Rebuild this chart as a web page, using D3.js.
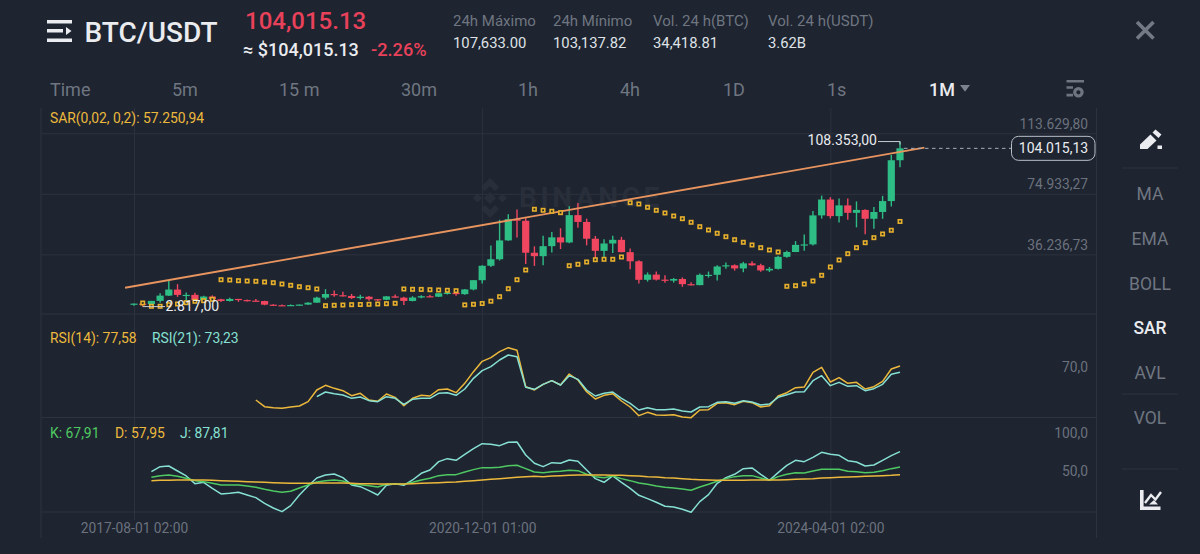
<!DOCTYPE html>
<html>
<head>
<meta charset="utf-8">
<script src="https://cdnjs.cloudflare.com/ajax/libs/d3/7.8.5/d3.min.js"></script>
<style>
html,body{margin:0;padding:0;background:#1e2430;overflow:hidden}
svg{display:block}
text{font-family:Roboto,"Noto Sans",sans-serif}
</style>
</head>
<body>
<svg id="chart" width="1200" height="554"></svg>
<script>
// Monthly BTC/USDT candles, August 2017 to December 2024
const opens = [4261,4690,4378,6463,9838,13716,10285,10326,6923,9246,7485,6391,7729,7011,6626,6371,4041,3702,3434,3813,4103,5320,8555,10855,10085,9630,8289,9140,7541,7195,9352,8523,6412,8620,9448,9138,11335,11649,10776,13791,19695,28923,33092,45134,58739,57697,37253,35045,41461,47100,43820,61300,56950,46216,38466,43160,45510,37630,31801,19942,23296,20050,19422,20490,17165,16541,23125,23141,28465,29233,27210,30472,29232,25940,26962,34639,37723,42283,42580,61130,71280,60672,67540,62772,64628,58974,63327,70292,96407];
const highs = [4745,4939,6470,11300,19798,17176,11786,11700,9759,10020,7786,8491,7760,7410,7680,6585,4340,4143,4198,4140,5600,9090,13970,13147,12325,10905,10370,9550,7750,9575,10500,9188,9460,10067,10380,11444,12468,12050,14100,19863,29300,41950,58352,61844,64854,59500,41330,48168,50500,52920,67000,69000,59053,47990,45821,48190,47444,40023,32399,24668,25202,22799,21085,21480,18387,23960,25250,29184,31000,29820,31431,31804,30244,28142,35280,38450,44700,48969,64000,73777,72797,71979,71997,70079,65000,66498,73620,99800,108353];
const lows = [3400,2817,4110,5325,9600,9035,6000,6600,6430,7032,5750,6070,5880,6100,6205,3652,3156,3349,3373,3670,4067,5350,7444,9071,9320,7710,7300,6515,6435,6901,8445,3782,6150,8117,8833,8893,10518,9825,10374,13195,17572,28130,32296,45000,47044,30000,28805,29278,37332,39600,43283,53256,42000,32917,34322,37155,37578,26700,17622,18781,19520,18125,18190,15476,16256,16499,21351,19549,26942,25811,24800,28861,25166,24901,26538,34097,37615,38555,41884,59005,59191,56552,58402,53485,49000,52550,58946,66835,92000];
const closes = [4724,4378,6463,9838,13716,10285,10326,6923,9246,7485,6391,7729,7011,6626,6371,4041,3702,3434,3813,4103,5320,8555,10855,10085,9630,8289,9140,7541,7195,9352,8523,6410,8620,9448,9138,11335,11649,10776,13791,19695,28923,33092,45135,58740,57694,37253,35045,41461,47100,43824,61299,56950,46216,38466,43160,45510,37630,31801,19942,23293,20050,19422,20490,17163,16542,23125,23141,28465,29233,27210,30472,29232,25940,26962,34639,37723,42283,42580,61130,71280,60672,67540,62772,64628,58974,63327,70292,96407,104015.13];

// Parabolic SAR, one value per candle from the second month on
const sarValues = [5117,3006,3006,4030,4477,5309,6204,6588,7483,20019,19828,19380,19188,18996,18548,18101,17269,16438,15542,14903,14071,3390,3646,3838,4029,4157,4285,4477,4669,4925,14071,13879,13815,13623,13432,13240,12984,3902,4285,4797,6268,9146,14263,20019,26224,65047,64408,63768,62873,28974,29869,31340,32811,33067,33067,34538,69269,68437,66327,64408,62681,60762,59035,56733,53918,51808,49697,47522,45603,43941,42214,40487,39016,37736,15798,16182,17269,19188,22834,28142,32620,36649,40487,43685,46883,49249,51616,57250.94];

// RSI(14) starts at month 14, RSI(21) at month 21
const rsi14 = [54.13,49.53,48.84,48.38,49.30,49.99,52.98,61.03,64.25,62.17,60.57,57.12,58.73,54.13,53.21,58.27,55.97,50.22,55.28,57.35,56.89,61.26,61.71,59.18,65.62,73.67,80.80,83.33,87.46,90.22,88.38,63.32,61.03,64.93,67.46,64.47,72.06,67.92,59.87,54.82,57.35,58.50,53.44,49.30,43.32,45.62,43.78,43.55,44.01,42.40,41.95,47.23,47.46,51.83,52.29,50.91,53.21,52.29,49.30,50.22,56.89,59.18,62.63,63.09,73.21,76.66,66.54,69.53,65.62,66.31,61.71,63.32,67.00,75.51,77.58];
const rsi21 = [56.43,59.65,58.50,57.58,55.28,56.20,53.67,52.98,56.43,55.28,51.14,54.59,55.28,55.28,58.73,59.18,57.35,61.71,69.07,74.36,77.12,81.72,85.16,84.01,62.86,61.49,64.93,67.46,64.47,70.91,68.38,61.03,56.89,58.73,59.65,55.28,51.83,47.23,48.84,47.46,47.46,47.92,46.54,45.85,49.30,49.53,52.52,52.98,51.83,53.67,52.75,50.68,51.37,55.97,57.81,59.65,59.87,67.46,70.91,64.01,66.31,63.55,64.01,60.57,61.95,64.93,71.83,73.23];

// KDJ starts at month 2
const kdjK = [54.53,56.69,57.55,55.82,53.23,50.19,48.90,46.73,44.57,44.57,44.57,43.27,41.54,38.94,36.77,35.05,36.34,40.67,44.57,48.46,50.19,51.06,49.76,45.87,45.00,43.70,41.97,45.44,45.87,45.44,48.03,51.06,53.23,56.69,57.99,57.99,61.45,64.48,67.08,67.08,67.51,69.68,70.11,65.78,61.45,60.59,61.88,62.32,63.62,63.18,58.42,55.39,54.09,56.26,52.79,50.19,47.17,45.44,43.27,41.54,40.67,39.37,37.64,41.97,45.44,49.33,52.79,55.39,56.69,56.69,53.66,50.63,55.39,58.42,60.59,60.15,62.75,64.91,64.91,64.91,62.32,61.88,60.59,61.02,63.18,65.78,67.91];
const kdjD = [50.19,50.63,50.63,51.06,51.06,51.06,51.06,50.63,50.19,49.76,49.33,48.90,48.46,48.03,47.60,47.17,46.73,46.73,46.73,47.17,47.17,47.17,47.17,46.73,46.30,46.30,45.87,45.87,45.87,45.87,46.30,46.73,47.17,47.60,48.03,48.46,49.33,50.19,51.06,51.93,52.79,53.66,54.53,55.39,55.82,55.39,56.26,56.69,57.12,57.55,57.55,57.55,57.55,57.12,57.12,56.69,56.26,55.39,54.96,54.09,53.66,52.79,51.93,51.50,51.06,50.63,50.63,50.63,50.63,51.06,51.06,51.06,51.06,51.50,51.93,52.36,52.79,53.66,54.09,54.53,54.96,55.39,55.82,56.26,56.69,57.12,57.95];
const kdjJ = [61.88,68.38,69.24,62.75,56.26,46.30,48.03,40.24,32.88,33.75,35.05,31.58,28.12,20.76,14.70,9.94,17.73,31.58,43.27,53.66,57.55,58.85,54.09,44.57,42.40,37.21,31.58,44.13,46.30,44.13,51.06,59.72,64.05,74.87,78.77,76.60,84.39,91.75,98.25,97.38,95.65,99.98,100.41,83.53,72.71,68.38,73.57,72.71,77.04,75.30,64.05,52.79,48.03,56.26,48.03,40.24,31.15,26.82,22.06,16.87,16.00,12.97,9.07,22.92,32.01,46.73,54.09,58.42,65.78,66.64,58.42,50.63,60.59,70.11,76.60,74.87,80.50,86.99,84.39,83.10,76.17,74.44,69.24,70.54,76.60,82.66,87.81];

// Hand-drawn trend line: month positions and prices of its two ends
const trendMonths = [-1.03, 90.8];
const trendPrices = [14900, 104447];

// Axis ticks
const priceTicks = [36236.73, 74933.27, 113629.80];
const rsiTicks = [70];
const kdjTicks = [50, 100];
const dateTicks = [0, 40, 80];
const dateLabels = ["2017-08-01 02:00", "2020-12-01 01:00", "2024-04-01 02:00"];

// Header and menu text
const statTitles = ["24h Máximo", "24h Mínimo", "Vol. 24 h(BTC)", "Vol. 24 h(USDT)"];
const statValues = ["107,633.00", "103,137.82", "34,418.81", "3.62B"];
const intervals = ["Time", "5m", "15 m", "30m", "1h", "4h", "1D", "1s", "1M"];
const indicators = ["MA", "EMA", "BOLL", "SAR", "AVL", "VOL"];

const BG = "#1e2430", GRID = "#2d333e", AXIS = "#6b727e", MUTED = "#6f7681";
const UP = "#2ebd85", DOWN = "#f0465f", YELLOW = "#ecb93c", TEAL = "#86e0d3", GREEN = "#4fc962";
const BRIGHT = "#eaecef", RED = "#e8415a";

const svg = d3.select("#chart");
svg.append("rect").attr("width", 1200).attr("height", 554).attr("fill", BG);

const esFormat = d3.formatLocale({decimal: ",", thousands: ".", grouping: [3]});
const fmt2 = esFormat.format(",.2f");
const fmt1 = esFormat.format(".1f");

const x = d3.scaleLinear().domain([0, 88]).range([134, 900]);
const yPrice = d3.scaleLinear().domain([0, 113629.80]).range([311, 133.3]);
const yRsi = d3.scaleLinear().domain([41.95, 90.22]).range([417.66, 347.67]);
const yKdj = d3.scaleLinear().domain([9.07, 100]).range([512.3, 442.3]);

const LEFT = 41, RIGHT = 1096.5;

function text(g, s, px, py, o = {}) {
  return g.append("text").attr("x", px).attr("y", py).attr("dy", "0.35em")
    .attr("font-size", o.size || 14).attr("font-weight", o.weight || 400)
    .attr("text-anchor", o.anchor || "start").attr("fill", o.fill || BRIGHT).text(s);
}

/* ---------- header ---------- */
const head = svg.append("g");
head.append("path").attr("fill", BRIGHT)
  .attr("d", "M47 20h25v3.6H47z M47 29h16v3.6H47z M47 38.4h25V42H47z M66 27l5.5 4-5.5 4z");
text(head, "BTC/USDT", 84.5, 32.5, {size: 28, weight: 500});
text(head, "104,015.13", 245, 20.5, {size: 24, weight: 500, fill: RED});
text(head, "≈ $104,015.13", 243, 50, {size: 18, weight: 500});
text(head, "-2.26%", 371, 50, {size: 18.2, weight: 500, fill: RED});
const statX = [453, 553, 653, 768];
statTitles.forEach((t, i) => text(head, t, statX[i], 20.5, {size: 15, fill: MUTED}));
statValues.forEach((t, i) => text(head, t, statX[i], 43, {size: 14.8, fill: "#dfe2e6"}));
head.append("path").attr("stroke", "#737a86").attr("stroke-width", 3.6).attr("fill", "none")
  .attr("d", "M1137 22l16.5 16.5M1153.5 22l-16.5 16.5");

/* ---------- interval tabs ---------- */
const tabs = svg.append("g");
const tabX = [50, 172, 279, 401, 518, 620, 723, 827, 929];
intervals.forEach((t, i) => {
  const active = t === "1M";
  text(tabs, t, tabX[i], 90, {size: 18, weight: active ? 500 : 400, fill: active ? BRIGHT : MUTED});
});
tabs.append("path").attr("fill", "#7c838e").attr("d", "M960 85h10l-5 6.7z");
tabs.append("path").attr("fill", "#6f7681")
  .attr("d", "M1066.5 80h17.5v2.6h-17.5z M1066.5 86.2h6.5v2.6h-6.5z M1066.5 93.8h6.5v2.6h-6.5z");
tabs.append("circle").attr("cx", 1078.4).attr("cy", 92.3).attr("r", 3.7)
  .attr("fill", "none").attr("stroke", "#6f7681").attr("stroke-width", 3.2);

/* ---------- frame and grid ---------- */
const frame = svg.append("g").attr("stroke", GRID).attr("stroke-width", 1);
[314, 417.5, 512].forEach(py =>
  frame.append("line").attr("x1", LEFT).attr("x2", RIGHT).attr("y1", py).attr("y2", py));
frame.append("line").attr("x1", LEFT).attr("x2", LEFT).attr("y1", 108).attr("y2", 538);
frame.append("line").attr("x1", RIGHT).attr("x2", RIGHT).attr("y1", 108).attr("y2", 538);

function styleAxis(g) {
  g.select(".domain").remove();
  g.selectAll(".tick line").attr("stroke", GRID).attr("stroke-width", 1);
  g.selectAll(".tick text").attr("fill", AXIS).attr("font-size", 13.8)
    .attr("font-family", "Roboto,'Noto Sans',sans-serif");
}

// Date axis with vertical grid lines running up through all panels
const xAxis = d3.axisBottom(x).tickValues(dateTicks)
  .tickFormat((d, i) => dateLabels[i]).tickSize(-412).tickPadding(3);
svg.append("g").attr("transform", "translate(0,520)").call(xAxis).call(styleAxis);

// Price axis; labels sit just above their grid line
const priceAxis = d3.axisRight(yPrice).tickValues(priceTicks).tickFormat(fmt2)
  .tickSize(0).tickPadding(0);
const priceG = svg.append("g").attr("transform", `translate(${RIGHT - 8.5},0)`).call(priceAxis).call(styleAxis);
priceG.selectAll(".tick text").attr("text-anchor", "end").attr("dy", -5);
priceG.selectAll(".tick").append("line").attr("x1", 8.5).attr("x2", LEFT - RIGHT + 8.5)
  .attr("stroke", GRID);

function sideAxis(scale, ticks) {
  const axis = d3.axisRight(scale).tickValues(ticks).tickFormat(fmt1).tickSize(0).tickPadding(0);
  const g = svg.append("g").attr("transform", `translate(${RIGHT - 8.5},0)`).call(axis).call(styleAxis);
  g.selectAll(".tick text").attr("text-anchor", "end").attr("dy", -5);
}
sideAxis(yRsi, rsiTicks);
sideAxis(yKdj, kdjTicks);

/* ---------- watermark ---------- */
const mark = svg.append("g").attr("fill", "#292f3a");
mark.append("path")
  .attr("d", "M490 178l9 9-4 4-5-5-5 5-4-4z M490 218l9-9-4-4-5 5-5-5-4 4z M473 198l4.5-4.5 4.5 4.5-4.5 4.5z M507 198l-4.5-4.5-4.5 4.5 4.5 4.5z M490 192l6 6-6 6-6-6z");
text(mark, "BINANCE", 519, 197.5, {size: 28, weight: 700, fill: "#292f3a"}).attr("letter-spacing", 3.6);

/* ---------- candles ---------- */
const months = d3.range(opens.length);
const candles = svg.append("g");
const candleColor = i => closes[i] >= opens[i] ? UP : DOWN;
candles.selectAll("line").data(months).join("line")
  .attr("x1", x).attr("x2", x)
  .attr("y1", i => yPrice(highs[i])).attr("y2", i => yPrice(lows[i]))
  .attr("stroke", candleColor).attr("stroke-width", 1.4);
candles.selectAll("rect").data(months).join("rect")
  .attr("x", i => x(i) - 3.6).attr("width", 7.2)
  .attr("y", i => yPrice(Math.max(opens[i], closes[i])))
  .attr("height", i => Math.max(1.2, Math.abs(yPrice(opens[i]) - yPrice(closes[i]))))
  .attr("fill", candleColor);

/* ---------- trend line ---------- */
svg.append("path")
  .datum(trendMonths.map((m, i) => [m, trendPrices[i]]))
  .attr("fill", "none").attr("stroke", "#e8945f").attr("stroke-width", 1.9)
  .attr("d", d3.line().x(d => x(d[0])).y(d => yPrice(d[1])));

/* ---------- SAR dots ---------- */
svg.append("g").selectAll("rect").data(sarValues).join("rect")
  .attr("x", (d, i) => x(i + 1) - 1.7).attr("y", d => yPrice(d) - 1.7)
  .attr("width", 3.4).attr("height", 3.4)
  .attr("fill", "#23262b").attr("stroke", "#e6b02c").attr("stroke-width", 1.6);

/* ---------- high, low and last price markers ---------- */
const last = opens.length - 1;
const hiIdx = d3.maxIndex(highs), loIdx = d3.minIndex(lows);
const notes = svg.append("g");
notes.append("path").attr("fill", "none").attr("stroke", "#c9ccd2").attr("stroke-width", 1)
  .attr("d", d3.line()([[878, yPrice(highs[hiIdx])], [x(hiIdx), yPrice(highs[hiIdx])], [x(hiIdx), yPrice(highs[hiIdx]) + 3]]));
text(notes, fmt2(highs[hiIdx]), 877, yPrice(highs[hiIdx]) - 1, {size: 14, anchor: "end"});
notes.append("line").attr("x1", x(loIdx)).attr("x2", 165)
  .attr("y1", yPrice(lows[loIdx])).attr("y2", yPrice(lows[loIdx]))
  .attr("stroke", "#c9ccd2");
text(notes, fmt2(lows[loIdx]), 165.5, yPrice(lows[loIdx]) - 0.5, {size: 14});

const lastY = yPrice(closes[last]);
notes.append("line").attr("x1", x(last) + 4).attr("x2", 1011).attr("y1", lastY).attr("y2", lastY)
  .attr("stroke", "#aab0ba").attr("stroke-dasharray", "3.5 3.5");
notes.append("rect").attr("x", 1011.5).attr("y", lastY - 12).attr("width", 83.5).attr("height", 24).attr("rx", 7)
  .attr("fill", BG).attr("stroke", "#b9bec7");
text(notes, fmt2(closes[last]), 1053.5, lastY, {size: 14, anchor: "middle"});

/* ---------- indicator lines ---------- */
function series(values, startMonth, yScale, color) {
  svg.append("path").datum(values)
    .attr("fill", "none").attr("stroke", color).attr("stroke-width", 1.5).attr("stroke-linejoin", "round")
    .attr("d", d3.line().x((d, i) => x(i + startMonth)).y(d => yScale(d)));
}
series(rsi14, 14, yRsi, YELLOW);
series(rsi21, 21, yRsi, TEAL);
series(kdjJ, 2, yKdj, TEAL);
series(kdjK, 2, yKdj, GREEN);
series(kdjD, 2, yKdj, YELLOW);

/* ---------- indicator legends ---------- */
const fmtVal = esFormat.format(".2f");
const legends = svg.append("g");
text(legends, `SAR(0,02, 0,2): ${fmt2(sarValues[sarValues.length - 1])}`, 50, 118, {size: 13.9, fill: YELLOW});
text(legends, `RSI(14): ${fmtVal(rsi14[rsi14.length - 1])}`, 50, 338, {size: 13.9, fill: YELLOW});
text(legends, `RSI(21): ${fmtVal(rsi21[rsi21.length - 1])}`, 152, 338, {size: 13.9, fill: TEAL});
text(legends, `K: ${fmtVal(kdjK[kdjK.length - 1])}`, 50, 433, {size: 13.9, fill: GREEN});
text(legends, `D: ${fmtVal(kdjD[kdjD.length - 1])}`, 115, 433, {size: 13.9, fill: YELLOW});
text(legends, `J: ${fmtVal(kdjJ[kdjJ.length - 1])}`, 180, 433, {size: 13.9, fill: TEAL});

/* ---------- indicator menu ---------- */
const side = svg.append("g");
const menuY = [194, 239, 284, 328, 373, 418];
indicators.forEach((t, i) => {
  const active = t === "SAR";
  text(side, t, 1150, menuY[i], {size: 17.5, weight: active ? 500 : 400, anchor: "middle", fill: active ? BRIGHT : MUTED});
});
[168, 394, 469].forEach(py =>
  side.append("line").attr("x1", 1122).attr("x2", 1178).attr("y1", py).attr("y2", py).attr("stroke", "#2d333e"));
side.append("path").attr("fill", BRIGHT)
  .attr("d", "M1140 149v-4.5l10.5-10 6 6-9 8.500z M1152.500 132.500l3-3 6 5-3 3.500z M1157.500 145.500h4.500v3.500h-4.500z");
side.append("path").attr("fill", "none").attr("stroke", BRIGHT).attr("stroke-width", 3.6)
  .attr("d", "M1141.800 490v18.200h18.700");
side.append("path").attr("fill", "none").attr("stroke", BRIGHT).attr("stroke-width", 2.4)
  .attr("d", "M1145 503l6-8 4.500 4.500 5.500-7.500");
side.append("path").attr("fill", BRIGHT).attr("d", "M1149 504.500l5-4.500 4 4.500z");
</script>
</body>
</html>
